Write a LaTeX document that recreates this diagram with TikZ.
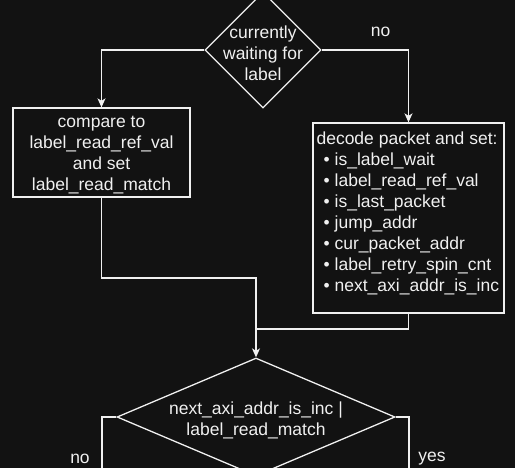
\documentclass[tikz,border=0pt]{standalone}
\usepackage{fontspec}
\setmainfont{Liberation Sans}
\usetikzlibrary{arrows.meta,shapes.geometric}
\definecolor{bg}{HTML}{121212}
\definecolor{fg}{HTML}{F0F0F0}
\tikzset{
  box/.style={draw=fg, line width=1.3pt, rectangle, inner sep=0pt},
  choice/.style={draw=fg, line width=1.3pt, diamond, inner sep=0pt},
  txt/.style={text=fg, font=\fontsize{17.5}{21}\selectfont, align=center},
  lowtxt/.style={txt, yshift=-3pt},
  wire/.style={draw=fg, line width=1.3pt},
  arr/.style={wire, -{Stealth[length=9pt,width=8pt,inset=2.5pt]}}
}
\begin{document}
\begin{tikzpicture}[x=1pt,y=-1pt]

\fill[bg] (0,0) rectangle (515,468);
\useasboundingbox (0,0) rectangle (515,468);

\node[choice, minimum width=116pt, minimum height=116pt,
  label={[lowtxt]center:{currently\\waiting for\\label}}] (wait) at (263,50) {};

\node[box, minimum width=177pt, minimum height=89pt,
  label={[lowtxt]center:{compare to\\label\_read\_ref\_val\\and set\\label\_read\_match}}] (cmp) at (101.5,152.5) {};

\node[box, minimum width=191pt, minimum height=190pt,
  label={[txt, align=left, anchor=north west, inner sep=0pt, xshift=4pt, yshift=-9pt]north west:{%
    decode packet and set:\\
    \hspace*{7pt}\textbullet\hspace{5pt}is\_label\_wait\\
    \hspace*{7pt}\textbullet\hspace{5pt}label\_read\_ref\_val\\
    \hspace*{7pt}\textbullet\hspace{5pt}is\_last\_packet\\
    \hspace*{7pt}\textbullet\hspace{5pt}jump\_addr\\
    \hspace*{7pt}\textbullet\hspace{5pt}cur\_packet\_addr\\
    \hspace*{7pt}\textbullet\hspace{5pt}label\_retry\_spin\_cnt\\
    \hspace*{7pt}\textbullet\hspace{5pt}next\_axi\_addr\_is\_inc}}] (dec) at (408.5,218) {};

\node[choice, minimum width=278pt, minimum height=118pt,
  label={[lowtxt]center:{next\_axi\_addr\_is\_inc |\\label\_read\_match}}] (chk) at (256,417) {};

% branches of the first test
\draw[arr] (wait.west) -| (cmp.north);
\draw[arr] (wait.east) -| node[txt, pos=0.34, yshift=18pt] (nofirst) {no} (dec.north);

% both paths meet
\coordinate (bend) at (256,278);
\coordinate (join) at (256,329);
\draw[wire] (cmp.south) |- (bend) -- (join);
\draw[wire] (dec.south) |- (join);
\draw[arr] (join) -- (chk.north);

% branches of the second test
\coordinate (noend) at (102,472);
\coordinate (yesend) at (409,472);
\draw[wire] (chk.west) -| (noend);
\draw[wire] (chk.east) -| (yesend);
\node[lowtxt] (nolast) at (80,456) {no};
\node[lowtxt] (yeslast) at (432,456) {yes};

\end{tikzpicture}
\end{document}
